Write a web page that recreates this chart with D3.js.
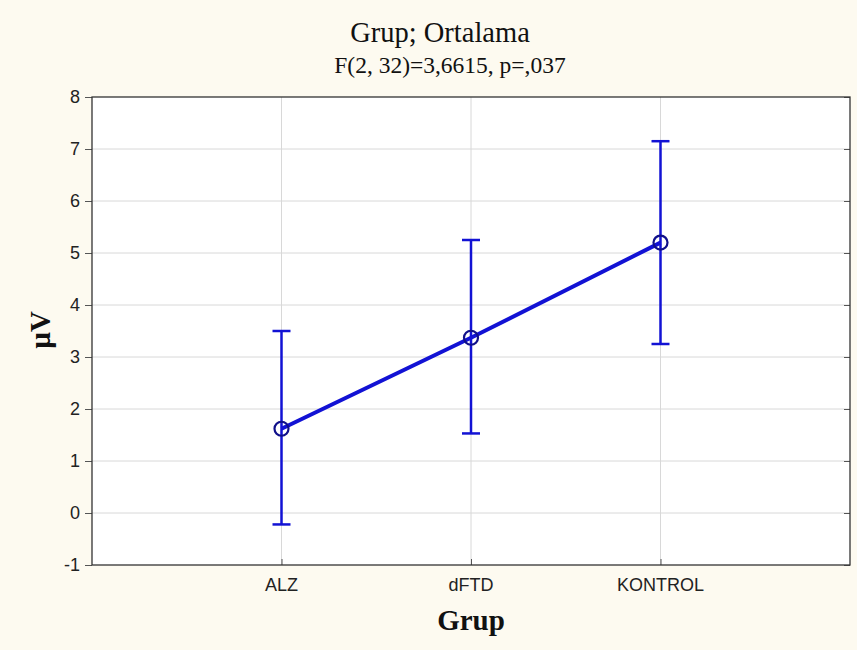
<!DOCTYPE html>
<html>
<head>
<meta charset="utf-8">
<script src="https://cdn.jsdelivr.net/npm/d3@7"></script>
<style>
  body { margin: 0; background: #fdfaf0; }
  svg { display: block; }
  .tick-label { font-family: "Liberation Sans", Arial, sans-serif; font-size: 18px; fill: #222; }
  .title { font-family: "Liberation Serif", "Times New Roman", serif; fill: #111; }
</style>
</head>
<body>
<svg id="chart" width="857" height="650"></svg>
<script>
// data
const groups = ["ALZ", "dFTD", "KONTROL"];
const means = [1.62, 3.37, 5.2];
const upper = [3.5, 5.25, 7.15];
const lower = [-0.22, 1.53, 3.25];
const yTicks = [-1, 0, 1, 2, 3, 4, 5, 6, 7, 8];

const plot = { left: 92, right: 850, top: 97, bottom: 565 };

const svg = d3.select("#chart");

// x positions: categories at 1..3 over 0..4
const x = d3.scaleLinear().domain([0, groups.length + 1]).range([plot.left, plot.right]);
const y = d3.scaleLinear().domain([-1, 8]).range([plot.bottom, plot.top]);

svg.append("rect")
  .attr("x", plot.left).attr("y", plot.top)
  .attr("width", plot.right - plot.left).attr("height", plot.bottom - plot.top)
  .attr("fill", "#fff");

// grid
svg.append("g").selectAll("line").data(yTicks.slice(1, -1)).join("line")
  .attr("x1", plot.left).attr("x2", plot.right)
  .attr("y1", d => y(d)).attr("y2", d => y(d))
  .attr("stroke", "#d8d8d8").attr("stroke-width", 1);
svg.append("g").selectAll("line").data(groups).join("line")
  .attr("x1", (d, i) => x(i + 1)).attr("x2", (d, i) => x(i + 1))
  .attr("y1", plot.top).attr("y2", plot.bottom)
  .attr("stroke", "#d8d8d8").attr("stroke-width", 1);

// axes
const yAxis = d3.axisLeft(y).tickValues(yTicks).tickSize(7).tickPadding(5).tickFormat(d => String(d));
svg.append("g")
  .attr("transform", `translate(${plot.left},0)`)
  .call(yAxis)
  .call(g => g.select(".domain").remove())
  .call(g => g.selectAll(".tick line").attr("stroke", "#555"))
  .call(g => g.selectAll(".tick text").attr("class", "tick-label").attr("fill", null));
svg.selectAll("g").attr("font-size", null).attr("font-family", null);

svg.append("g")
  .attr("transform", `translate(${plot.right},0)`)
  .call(d3.axisLeft(y).tickValues(yTicks).tickSize(6).tickFormat(""))
  .call(g => g.select(".domain").remove())
  .call(g => g.selectAll(".tick line").attr("stroke", "#555"));

const xAxis = d3.axisTop(x).tickValues(groups.map((d, i) => i + 1)).tickSize(6).tickFormat("");
svg.append("g")
  .attr("transform", `translate(0,${plot.bottom})`)
  .call(xAxis)
  .call(g => g.select(".domain").remove())
  .call(g => g.selectAll(".tick line").attr("stroke", "#555"));

svg.append("g").selectAll("text").data(groups).join("text")
  .attr("class", "tick-label")
  .attr("x", (d, i) => x(i + 1))
  .attr("y", plot.bottom + 26)
  .attr("text-anchor", "middle")
  .text(d => d);

// frame
svg.append("rect")
  .attr("x", plot.left).attr("y", plot.top)
  .attr("width", plot.right - plot.left).attr("height", plot.bottom - plot.top)
  .attr("fill", "none").attr("stroke", "#333").attr("stroke-width", 1.3);

// error bars
const blue = "#1212d4";
const eb = svg.append("g").attr("stroke", blue).attr("stroke-width", 2.5);
groups.forEach((g, i) => {
  const cx = x(i + 1);
  eb.append("line").attr("x1", cx).attr("x2", cx).attr("y1", y(upper[i])).attr("y2", y(lower[i]));
  eb.append("line").attr("x1", cx - 9).attr("x2", cx + 9).attr("y1", y(upper[i])).attr("y2", y(upper[i]));
  eb.append("line").attr("x1", cx - 9).attr("x2", cx + 9).attr("y1", y(lower[i])).attr("y2", y(lower[i]));
});

// mean line
const line = d3.line().x((d, i) => x(i + 1)).y(d => y(d));
svg.append("path").datum(means)
  .attr("d", line)
  .attr("fill", "none").attr("stroke", blue).attr("stroke-width", 4);

svg.append("g").selectAll("circle").data(means).join("circle")
  .attr("cx", (d, i) => x(i + 1)).attr("cy", d => y(d))
  .attr("r", 7)
  .attr("fill", "none").attr("stroke", "#10108a").attr("stroke-width", 2.2);

// titles
svg.append("text").attr("class", "title")
  .attr("x", 440).attr("y", 42).attr("text-anchor", "middle")
  .attr("font-size", 28.5).text("Grup; Ortalama");
svg.append("text").attr("class", "title")
  .attr("x", 450).attr("y", 73).attr("text-anchor", "middle")
  .attr("font-size", 23.5).text("F(2, 32)=3,6615, p=,037");

svg.append("text").attr("class", "title")
  .attr("x", 471).attr("y", 630).attr("text-anchor", "middle")
  .attr("font-size", 29).attr("font-weight", "bold").text("Grup");
svg.append("text").attr("class", "title")
  .attr("transform", `translate(50,330) rotate(-90)`)
  .attr("text-anchor", "middle")
  .attr("font-size", 29).attr("font-weight", "bold").text("µV");
</script>
</body>
</html>
